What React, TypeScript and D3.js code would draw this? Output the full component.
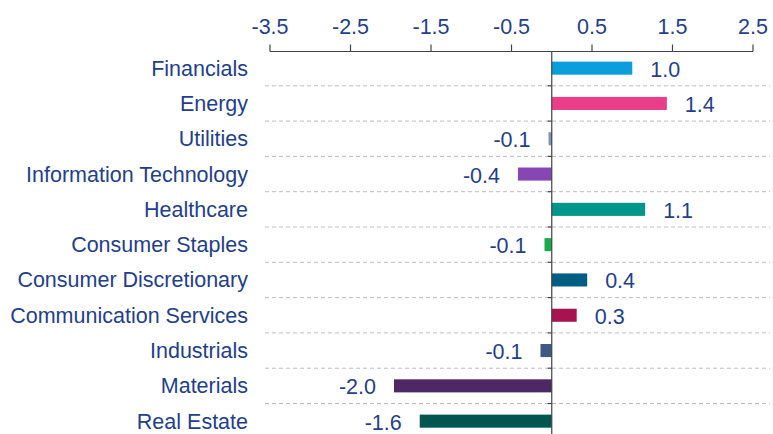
import React from 'react';
import * as d3 from 'd3';

// Sector contributions
const categories = [
  'Financials',
  'Energy',
  'Utilities',
  'Information Technology',
  'Healthcare',
  'Consumer Staples',
  'Consumer Discretionary',
  'Communication Services',
  'Industrials',
  'Materials',
  'Real Estate',
];
const values = [1.0, 1.43, -0.04, -0.42, 1.16, -0.09, 0.44, 0.31, -0.14, -1.96, -1.64];
const valueLabels = ['1.0', '1.4', '-0.1', '-0.4', '1.1', '-0.1', '0.4', '0.3', '-0.1', '-2.0', '-1.6'];
const colors = [
  '#0a9fdc', '#ea3f88', '#7d93b8', '#8647b5', '#00968b', '#17ab4c',
  '#005d83', '#a8134f', '#3e5884', '#4e2864', '#00574f',
];
const xTicks = [-3.5, -2.5, -1.5, -0.5, 0.5, 1.5, 2.5];

const W = 773;
const H = 434;
const TEXT = '#233f8b';
const FONT = 'Liberation Sans, Arial, sans-serif';
const FS = 21.5;

const App = () => {
  const x = d3.scaleLinear().domain([-3.5, 2.5]).range([270, 753]);
  const y = d3.scaleBand<string>()
    .domain(categories)
    .range([50.5, 50.5 + 11 * 35.3])
    .paddingInner(0.63)
    .paddingOuter(0.315);

  const step = y.step();
  const top = 51.5;
  const boundaries = d3.range(1, categories.length + 1).map(i => (y(categories[0]) as number) - step * 0.315 + i * step);

  return (
    <svg width={W} height={H} style={{ position: 'absolute', left: 0, top: 0, background: '#fff' }}
      fontFamily={FONT}>
      {/* dashed gridlines between rows */}
      {boundaries.slice(0, -1).map((b, i) => (
        <line key={'g' + i} x1={265} x2={770} y1={b} y2={b}
          stroke="#bdbdbd" strokeWidth={1} strokeDasharray="4,3" />
      ))}

      {/* top value axis */}
      <line x1={x(-3.5)} x2={x(2.5)} y1={top} y2={top} stroke="#444" strokeWidth={1.2} />
      {xTicks.map(t => (
        <g key={'t' + t}>
          <line x1={x(t)} x2={x(t)} y1={top} y2={top - 7} stroke="#444" strokeWidth={1.2} />
          <text x={x(t)} y={34} textAnchor="middle" fontSize={FS} fill={TEXT}>{t.toFixed(1)}</text>
        </g>
      ))}

      {/* bars */}
      {categories.map((c, i) => {
        const v = values[i];
        const x0 = x(Math.min(0, v));
        const x1 = x(Math.max(0, v));
        return (
          <rect key={'b' + c} x={x0} y={y(c)} width={x1 - x0} height={y.bandwidth()} fill={colors[i]} />
        );
      })}

      {/* zero axis with small ticks */}
      <line x1={x(0)} x2={x(0)} y1={top} y2={H} stroke="#444" strokeWidth={1.2} />
      {boundaries.map((b, i) => (
        <line key={'zt' + i} x1={x(0) - 4} x2={x(0)} y1={b} y2={b} stroke="#444" strokeWidth={1.2} />
      ))}

      {/* category labels */}
      {categories.map(c => (
        <text key={'c' + c} x={248} y={(y(c) as number) + y.bandwidth() / 2} dy="0.35em"
          textAnchor="end" fontSize={FS} fill={TEXT}>{c}</text>
      ))}

      {/* value labels */}
      {categories.map((c, i) => {
        const v = values[i];
        const pos = v >= 0;
        return (
          <text key={'v' + c} x={pos ? x(v) + 18 : x(v) - 18}
            y={(y(c) as number) + y.bandwidth() / 2 + 1} dy="0.35em"
            textAnchor={pos ? 'start' : 'end'} fontSize={FS} fill={TEXT}>{valueLabels[i]}</text>
        );
      })}
    </svg>
  );
};

export default App;
